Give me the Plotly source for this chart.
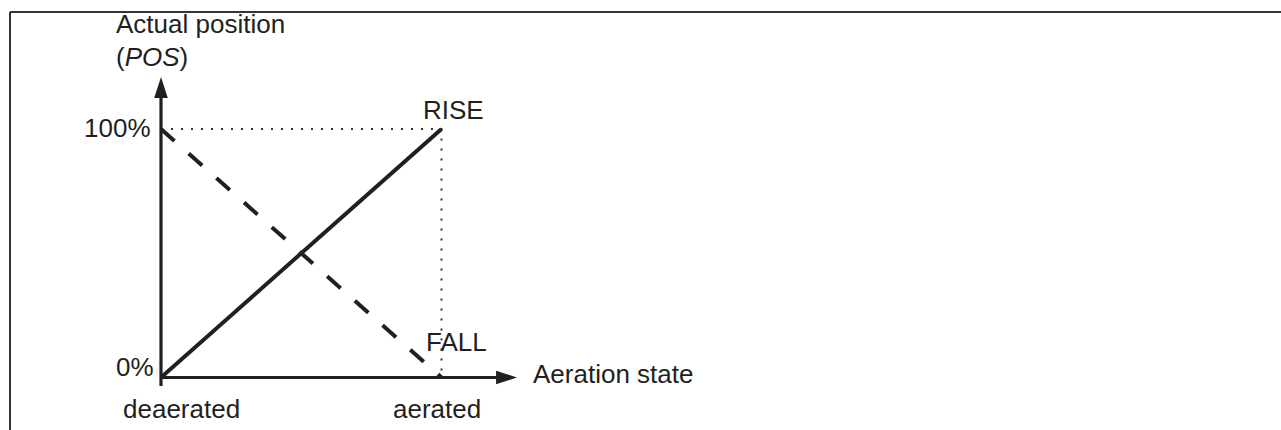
import plotly.graph_objects as go

# ---- data ----
states = [0, 1]                 # 0 = deaerated, 1 = aerated
state_labels = ["deaerated", "aerated"]
rise = [0, 100]                 # RISE: position grows with aeration
fall = [100, 0]                 # FALL: position drops with aeration
pos_ticks = [0, 100]
pos_tick_labels = ["0%", "100%"]

# ---- geometry (pixels of the 1281x430 canvas) ----
W, H = 1281, 430
X0_PX, X1_PX = 161.0, 441.5     # pixel of state 0 / state 1
Y0_PX, Y100_PX = 377.5, 129.0   # pixel of 0% / 100%
sx = X1_PX - X0_PX
sy = (Y0_PX - Y100_PX) / 100.0

def dx(px):
    return (px - X0_PX) / sx

def dy(py):
    return (Y0_PX - py) / sy

INK = "#231f20"
FONT = "Liberation Sans, Arial, Helvetica, sans-serif"
FS = 26

fig = go.Figure()

# dotted guide lines (100% level and aerated state)
fig.add_trace(go.Scatter(
    x=[states[0], states[1], states[1]],
    y=[rise[1], rise[1], rise[0]],
    mode="lines", line=dict(color="#333", width=2, dash="2px,8px"),
    hoverinfo="skip", showlegend=False))

# RISE (solid)
fig.add_trace(go.Scatter(x=states, y=rise, mode="lines",
                         line=dict(color=INK, width=4),
                         hoverinfo="skip", showlegend=False))
# FALL (dashed)
fig.add_trace(go.Scatter(x=states, y=fall, mode="lines",
                         line=dict(color=INK, width=4, dash="18px,19px"),
                         hoverinfo="skip", showlegend=False))

# axes with arrows
y_tip, y_bot = dy(77), dy(386)
x_tip = dx(517)
fig.add_trace(go.Scatter(x=[0, 0], y=[y_bot, dy(92)], mode="lines",
                         line=dict(color=INK, width=3.2),
                         hoverinfo="skip", showlegend=False))
fig.add_trace(go.Scatter(x=[0, dx(505)], y=[0, 0], mode="lines",
                         line=dict(color=INK, width=3.2),
                         hoverinfo="skip", showlegend=False))
fig.add_trace(go.Scatter(x=[0, x_tip], y=[y_tip, 0], mode="markers",
                         marker=dict(symbol="arrow", size=22, angle=[0, 90],
                                     color=INK, line=dict(width=0)),
                         hoverinfo="skip", showlegend=False))

ann = []
def text(t, xpx, ypx, anchor="left"):
    ann.append(dict(text=t, x=dx(xpx), y=dy(ypx), xref="x", yref="y",
                    xanchor=anchor, yanchor="middle", showarrow=False,
                    font=dict(family=FONT, size=FS, color=INK)))

text("Actual position", 114, 24)
text("(<i>POS</i>)", 114, 57)
text(pos_tick_labels[1], 153, 128, anchor="right")
text(pos_tick_labels[0], 156, 367, anchor="right")
text("RISE", 421, 110)
text("FALL", 424, 342)
text("Aeration state", 531, 374)
text(state_labels[0], 121, 409)
text(state_labels[1], 391, 409)

fig.update_layout(
    width=W, height=H,
    margin=dict(l=0, r=0, t=0, b=0),
    paper_bgcolor="white", plot_bgcolor="white",
    xaxis=dict(range=[dx(0), dx(W)], visible=False, showgrid=False, zeroline=False,
               tickvals=states, ticktext=state_labels),
    yaxis=dict(range=[dy(H), dy(0)], visible=False, showgrid=False, zeroline=False,
               tickvals=pos_ticks, ticktext=pos_tick_labels),
    annotations=ann,
    shapes=[
        dict(type="line", xref="paper", yref="paper",
             x0=10 / W, x1=10 / W, y0=0, y1=1 - 12 / H,
             line=dict(color="#333", width=2)),
        dict(type="line", xref="paper", yref="paper",
             x0=10 / W, x1=1, y0=1 - 12 / H, y1=1 - 12 / H,
             line=dict(color="#333", width=2)),
    ],
)

fig.write_html("out.html", config={"displayModeBar": False},
               post_script="document.body.style.margin='0';"
                           "document.body.style.overflow='hidden';")
